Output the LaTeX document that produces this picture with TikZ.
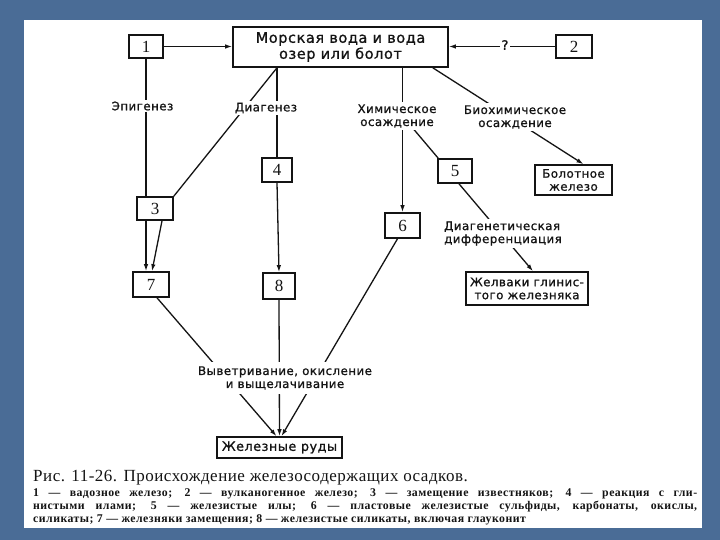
\documentclass[tikz,border=0pt]{standalone}
\usepackage{fontspec}
\setmainfont{Liberation Serif}
\newfontfamily\labfont[LetterSpace=4,FakeBold=1]{DejaVu Sans}
\newfontfamily\capfont[LetterSpace=4]{Liberation Serif}
\newfontfamily\titfont[LetterSpace=3]{Liberation Serif}
\usetikzlibrary{arrows.meta,backgrounds,calc}
\definecolor{bgblue}{RGB}{74,108,150}
\definecolor{ink}{RGB}{20,20,20}
\begin{document}
\begin{tikzpicture}[x=1pt,y=-1pt,
  every node/.style={text=ink},
  box/.style={draw=ink,line width=1.6pt,fill=white,inner sep=0pt,align=center},
  numbox/.style={box,font=\fontsize{17}{17}\selectfont},
  lab/.style={fill=white,inner sep=2pt,align=center,font=\labfont\fontsize{11.8}{13}\selectfont},
  ln/.style={draw=ink,line width=1.3pt},
  arr/.style={ln,-{Latex[length=7pt,width=4.5pt]}}]
\useasboundingbox (0,0) rectangle (720,540);
\begin{pgfonlayer}{background}
\fill[bgblue] (0,0) rectangle (720,540);
\fill[white] (24,20) rectangle (702,528);
\end{pgfonlayer}
% boxes
\node[numbox,minimum width=34pt,minimum height=23pt] (b1) at (146,46.5) {1};
\node[box,minimum width=215pt,minimum height=40pt,font=\labfont\fontsize{14.5}{16}\selectfont] (main) at (340.5,47) {Морская вода и вода\\озер или болот};
\node[numbox,minimum width=36pt,minimum height=23pt] (b2) at (574,46.5) {2};
\node[numbox,minimum width=30pt,minimum height=24pt] (b4) at (277,170) {4};
\node[numbox,minimum width=34pt,minimum height=24pt] (b5) at (455,171) {5};
\node[box,minimum width=77pt,minimum height=30pt,font=\labfont\fontsize{11.8}{13}\selectfont] (bol) at (573.5,180) {Болотное\\железо};
\node[numbox,minimum width=36pt,minimum height=23pt] (b3) at (155,208.5) {3};
\node[numbox,minimum width=35pt,minimum height=25pt] (b6) at (402.5,225.5) {6};
\node[numbox,minimum width=36pt,minimum height=25pt] (b7) at (151,284.5) {7};
\node[numbox,minimum width=32pt,minimum height=26pt] (b8) at (279,286) {8};
\node[box,minimum width=122pt,minimum height=33pt,font=\labfont\fontsize{11.8}{13}\selectfont] (zh) at (527,288.5) {Желваки глинис-\\того железняка};
\node[box,minimum width=125pt,minimum height=21pt,font=\labfont\fontsize{12.8}{14}\selectfont] (ore) at (279.5,447.5) {Железные руды};
% labels
\node[lab] (epi) at (142.5,106) {Эпигенез};
\node[lab] (dia) at (266,108) {Диагенез};
\node[lab] (chem) at (397,116) {Химическое\\осаждение};
\node[lab] (bio) at (515,117) {Биохимическое\\осаждение};
\node[lab,font=\labfont\fontsize{13}{14}\selectfont] (q) at (505,45) {?};
\node[lab,align=left] (ddif) at (503,233.5) {Диагенетическая\\дифференциация};
\node[lab,inner sep=4pt] (wea) at (285,378) {Выветривание, окисление\\и выщелачивание};
% connectors
\begin{pgfonlayer}{background}
\draw[arr] (b1.east) -- (b1.east -| main.west);
\draw[arr] (b2.west) -- (b2.west -| main.east);
\draw[arr] (b1.south) -- (b1.south |- b7.north);
\draw[ln] (main.south -| b4.north) -- (b4.north);
\draw[ln] (main.south -| b4.north) -- (b3.north east);
\draw[arr] (b3.south) ++(7,0) coordinate (s3) (s3) -- ($(b7.north)+(1,0)$);
\draw[arr] (b4.south) -- (b8.north);
\draw[arr] (main.south -| b6.north) -- (b6.north);
\draw[ln] (b6.north |- chem.center) -- ($(b5.north west)+(1,0)$);
\draw[arr] ($(main.south east)+(-16,0)$) -- ($(bol.north)+(10,0)$);
\draw[arr] ($(b5.south)+(4,0)$) -- ($(zh.north)+(6,0)$);
\draw[arr] ($(b7.south)+(6,0)$) -- ($(ore.north)+(-3,0)$);
\draw[arr] (b8.south) -- (ore.north);
\draw[arr] ($(b6.south)+(-5,0)$) -- ($(ore.north)+(2,0)$);
\end{pgfonlayer}
% caption
\node[anchor=west,inner sep=0pt,font=\titfont\fontsize{17}{19}\selectfont] (cap) at (33,478) {Рис. 11-26. Происхождение железосодержащих осадков.};
\node[anchor=west,inner sep=0pt,font=\capfont\bfseries\fontsize{11.8}{12}\selectfont] (c1) at (33,494) {\makebox[664pt][s]{1 — вадозное железо; 2 — вулканогенное железо; 3 — замещение известняков; 4 — реакция с гли-}};
\node[anchor=west,inner sep=0pt,font=\capfont\bfseries\fontsize{11.8}{12}\selectfont] (c2) at (33,507) {\makebox[664pt][s]{нистыми илами; 5 — железистые илы; 6 — пластовые железистые сульфиды, карбонаты, окислы,}};
\node[anchor=west,inner sep=0pt,font=\capfont\bfseries\fontsize{11.8}{12}\selectfont] (c3) at (33,520) {силикаты; 7 — железняки замещения; 8 — железистые силикаты, включая глауконит};
\end{tikzpicture}
\end{document}
